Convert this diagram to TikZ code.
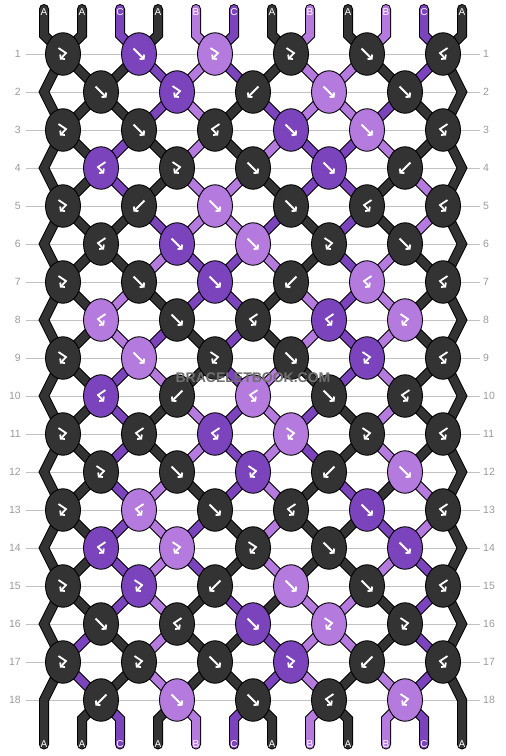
\documentclass[tikz,border=0pt]{standalone}
\usepackage{fontspec}
\setmainfont{Liberation Sans}
\usetikzlibrary{shapes.geometric,arrows.meta}

\definecolor{colA}{HTML}{333333}
\definecolor{colB}{HTML}{B57ADE}
\definecolor{colC}{HTML}{7C44BC}
\definecolor{rowline}{HTML}{C2C2C2}
\definecolor{rownum}{HTML}{9A9A9A}
\definecolor{wmark}{HTML}{707070}

\pgfdeclarelayer{bg}
\pgfdeclarelayer{threads}
\pgfsetlayers{bg,threads,main}

\tikzset{
	knot/.style={ellipse, draw=black, line width=0.9pt, minimum width=35pt, minimum height=42.5pt, inner sep=0pt, fill=col#1},
	thread/.style={draw=black, line width=1pt, double=col#1, double distance=8pt},
	threadend/.style={thread=#1, line cap=round},
	tag/.style={text=white, font=\fontsize{10}{10}\selectfont, inner sep=0pt},
	rowtag/.style={text=rownum, font=\fontsize{10.5}{12}\selectfont, inner sep=0pt},
	knotarrow/.style={draw=white, line width=1.8pt, -{Straight Barb[length=2.6pt,width=6.5pt]}},
	pics/arrf/.style={code={\draw[knotarrow] (-5.5,-5.5) -- (5.5,5.5);}},
	pics/arrb/.style={code={\draw[knotarrow] (5.5,-5.5) -- (-5.5,5.5);}},
	pics/arrfb/.style={code={\draw[knotarrow] (-4.5,-6) -- (3,-1) -- (-3,5.5);}},
	pics/arrbf/.style={code={\draw[knotarrow] (4.5,-6) -- (-3,-1) -- (3,5.5);}}
}

\begin{document}
\begin{tikzpicture}[x=1pt,y=-1pt]
	\useasboundingbox (0,0) rectangle (506,756);
	%Row guides
	\foreach \r in {1,...,18} {
		\node[rowtag, anchor=east] (nl\r) at (21,{54+38*(\r-1)}) {\r};
		\node[rowtag, anchor=west] (nr\r) at (483,{54+38*(\r-1)}) {\r};
		\begin{pgfonlayer}{bg}
			\draw[rowline, line width=0.8pt, shorten <=5pt, shorten >=3pt] (nl\r.east) -- (nr\r.west);
		\end{pgfonlayer}
	}
	%Knots
	\foreach \r/\row in {
		1/{fb/A,f/C,fb/B,fb/A,f/A,bf/A},
		2/{f/A,fb/C,b/A,f/B,f/A},
		3/{fb/A,f/A,bf/A,f/C,f/B,bf/A},
		4/{bf/C,fb/A,f/A,f/C,b/A},
		5/{fb/A,b/A,f/B,f/A,bf/A,bf/A},
		6/{bf/A,f/C,f/B,fb/A,f/A},
		7/{fb/A,f/A,f/C,b/A,bf/B,bf/A},
		8/{bf/B,f/A,bf/A,bf/C,fb/B},
		9/{fb/A,f/B,fb/A,f/A,fb/C,bf/A},
		10/{bf/C,b/A,bf/B,f/A,bf/A},
		11/{fb/A,bf/A,bf/C,fb/B,fb/A,bf/A},
		12/{fb/A,f/A,fb/C,b/A,f/B},
		13/{fb/A,bf/B,f/A,bf/A,f/C,bf/A},
		14/{bf/C,fb/B,fb/A,f/A,f/C},
		15/{fb/A,fb/C,b/A,f/B,f/A,bf/A},
		16/{f/A,bf/A,f/C,fb/B,fb/A},
		17/{fb/A,fb/A,f/A,fb/C,b/A,bf/A},
		18/{b/A,f/B,f/A,bf/A,fb/B}} {
		\pgfmathsetmacro\xs{mod(\r,2)==1 ? 63 : 101}
		\foreach \t/\c [count=\j] in \row {
			\node[knot=\c] (k\r-\j) at ({\xs+76*(\j-1)},{54+38*(\r-1)}) {};
			\pic at (k\r-\j) {arr\t};
		}
	}
	%Edge turns
	\foreach \r in {2,4,...,18} {
		\coordinate (eL\r) at (44,{54+38*(\r-1)});
		\coordinate (eR\r) at (462,{54+38*(\r-1)});
	}
	%End tags
	\foreach \l [count=\p] in {A,A,C,A,B,C,A,B,A,B,C,A} {
		\node[tag] (top\p) at ({44+38*(\p-1)},12.5) {\l};
		\node[tag] (bot\p) at ({44+38*(\p-1)},744.5) {\l};
	}
	\begin{pgfonlayer}{threads}
		%Threads in and out
		\foreach \l [count=\p from 2] in {A,C,A,B,C,A,B,A,B,C} {
			\pgfmathtruncatemacro\jo{(\p+1)/2}
			\pgfmathtruncatemacro\je{\p/2}
			\draw[threadend=\l] ([yshift=3.5pt]top\p.center) -- ++(0,26) -- (k1-\jo.center);
			\draw[threadend=\l] (bot\p.center) -- ++(0,-25.5) -- (k18-\je.center);
		}
		%Edges
		\draw[threadend=A] ([yshift=3.5pt]top1.center) -- ++(0,26)
			\foreach \r [evaluate=\r as \re using int(\r+1)] in {1,3,...,17} { -- (k\r-1.center) -- (eL\re) } -- (bot1.center);
		\draw[threadend=A] ([yshift=3.5pt]top12.center) -- ++(0,26)
			\foreach \r [evaluate=\r as \re using int(\r+1)] in {1,3,...,17} { -- (k\r-6.center) -- (eR\re) } -- (bot12.center);
		%Threads between rows
		\foreach \r/\cols in {
			1/{A,A,C,B,C,A,B,B,A,C},
			2/{A,A,C,B,A,C,B,B,C,A},
			3/{A,C,A,B,A,B,C,C,B,A},
			4/{A,C,A,B,B,A,C,C,A,B},
			5/{A,A,C,B,B,C,A,C,A,B},
			6/{A,A,B,C,C,B,A,C,B,A},
			7/{A,B,A,C,C,A,B,C,B,A},
			8/{A,B,C,A,C,A,B,C,B,A},
			9/{A,C,B,A,C,B,A,C,B,A},
			10/{A,C,A,B,C,B,C,A,B,A},
			11/{A,C,A,B,C,B,C,A,B,A},
			12/{A,C,B,A,C,B,A,C,A,B},
			13/{A,C,B,C,A,B,A,A,C,B},
			14/{A,C,B,C,A,B,A,A,B,C},
			15/{A,C,B,A,C,A,B,B,A,C},
			16/{C,A,B,A,A,C,B,B,A,C},
			17/{C,A,B,A,A,C,B,A,B,C}} {
			\pgfmathtruncatemacro\rn{\r+1}
			\foreach \c [count=\p from 2] in \cols {
				\pgfmathtruncatemacro\jo{(\p+1)/2}
				\pgfmathtruncatemacro\je{\p/2}
				\ifodd\r\relax
					\draw[thread=\c] (k\r-\jo.center) -- (k\rn-\je.center);
				\else
					\draw[thread=\c] (k\r-\je.center) -- (k\rn-\jo.center);
				\fi
			}
		}
	\end{pgfonlayer}
	%Watermark
	\node[text=wmark, font=\bfseries\fontsize{14}{14}\selectfont, inner sep=0pt] (mark) at (253,377.5) {BRACELETBOOK.COM};
\end{tikzpicture}
\end{document}
